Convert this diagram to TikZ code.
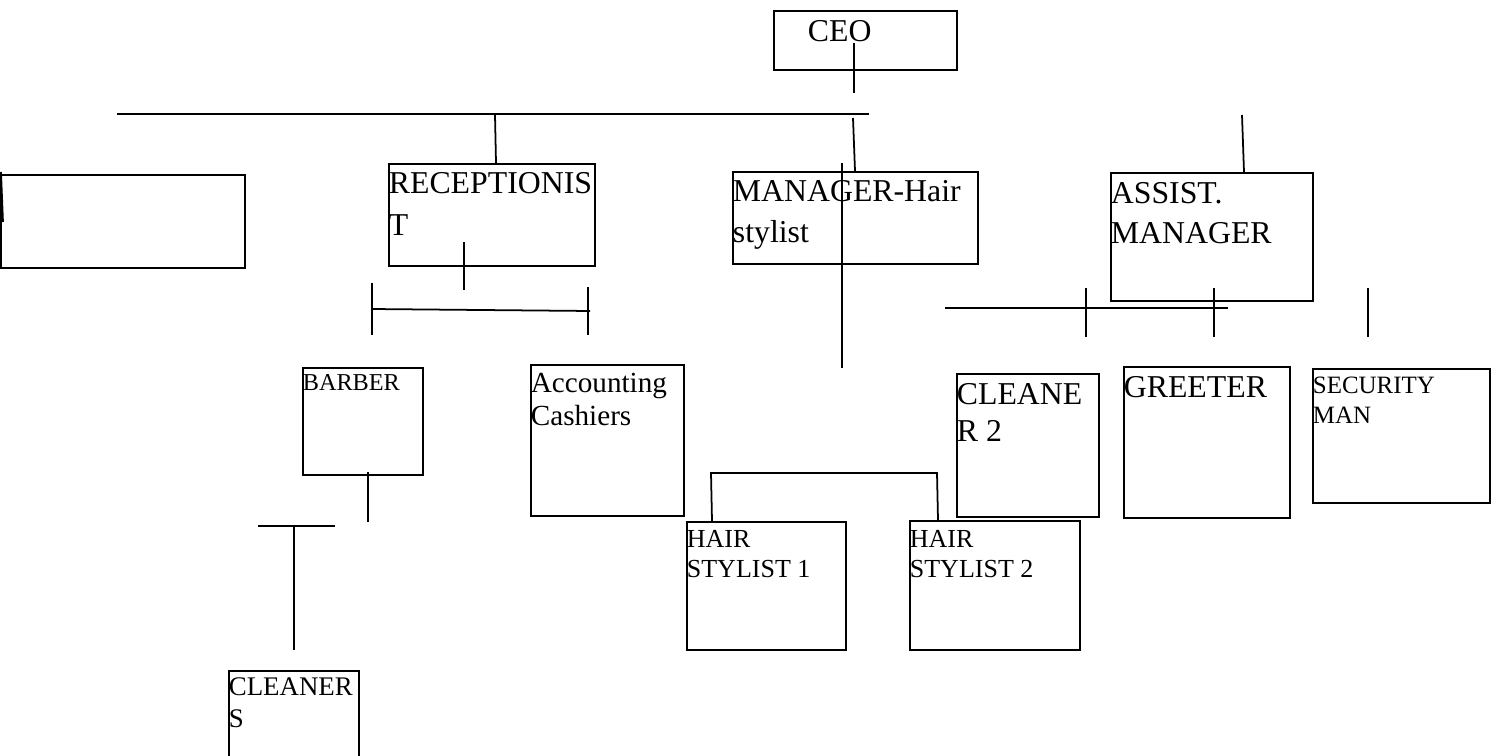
\documentclass[tikz,border=0pt]{standalone}
\usepackage{fontspec}
\setmainfont{Liberation Serif}
\usetikzlibrary{positioning}

\newlength\pxl
\setlength\pxl{0.02cm}
% box content: width, height, first baseline, text
\newcommand\boxtext[4]{\parbox[t][#2\pxl][t]{#1\pxl}{\raggedright\rule{0pt}{#3\pxl}#4}}

\tikzset{
  box/.style={draw, line width=1pt, inner sep=0pt, anchor=north west},
  bigfont/.style={font=\fontsize{18.1}{#1}\selectfont},
  midfont/.style={font=\fontsize{16.6}{#1}\selectfont},
  smallfont/.style={font=\fontsize{14.8}{#1}\selectfont},
  wire/.style={line width=1pt}
}

\begin{document}
\begin{tikzpicture}[x=0.02cm, y=-0.02cm]
\useasboundingbox (0,0) rectangle (1497,756);

% boxes
\node[box, bigfont=23.9] (ceo) at (773,10) {\boxtext{183}{59}{31}{\hspace*{34\pxl}CEO}};
\node[box] (blank) at (0,174) {\boxtext{244}{93}{30}{}};
\node[box, bigfont=23.9] (recep) at (388,163) {\boxtext{206}{102}{30}{RECEPTIONIS\\T}};
\node[box, bigfont=23.3] (manager) at (732,171) {\boxtext{245}{92}{30}{MANAGER-Hair\\stylist}};
\node[box, bigfont=22.8] (assist) at (1110,172) {\boxtext{202}{128}{31}{ASSIST.\\MANAGER}};
\node[box, font=\fontsize{13.8}{17}\selectfont] (barber) at (302,367) {\boxtext{120}{107}{23}{BARBER}};
\node[box, midfont=18.8] (acct) at (530,364) {\boxtext{153}{151}{28}{Accounting\\Cashiers}};
\node[box, bigfont=21] (cleaner2) at (956,373) {\boxtext{142}{143}{31}{CLEANE\\R 2}};
\node[box, bigfont=21] (greeter) at (1123,366) {\boxtext{166}{151}{31}{GREETER}};
\node[box, font=\fontsize{14.2}{17.1}\selectfont] (security) at (1312,368) {\boxtext{177}{134}{25}{SECURITY\\MAN}};
\node[box, smallfont=17.1] (stylist1) at (686,521) {\boxtext{159}{128}{26}{HAIR\\STYLIST 1}};
\node[box, smallfont=17.1] (stylist2) at (909,520) {\boxtext{170}{129}{27}{HAIR\\STYLIST 2}};
\node[box, font=\fontsize{15.3}{18.2}\selectfont] (cleaners) at (228,670) {\boxtext{130}{100}{25}{CLEANER\\S}};

% lines
\draw[wire] (854,43) -- (854,93);
\draw[wire] (117,114) -- (869,114);
\draw[wire] (1,172) -- (3,222);
\draw[wire] (495,115) -- (496,163);
\draw[wire] (464,242) -- (464,290);
\draw[wire] (371,309) -- (590,311);
\draw[wire] (372,283) -- (372,335);
\draw[wire] (588,287) -- (588,335);
\draw[wire] (853,118) -- (855,171);
\draw[wire] (842,163) -- (842,368);
\draw[wire] (712,521) -- (711,473) -- (937,473) -- (938,520);
\draw[wire] (1242,115) -- (1244,172);
\draw[wire] (945,308) -- (1228,308);
\foreach \x in {1086,1214,1368}
  \draw[wire] (\x,288) -- (\x,337);
\draw[wire] (368,472) -- (368,522);
\draw[wire] (258,526) -- (335,526);
\draw[wire] (294,526) -- (294,650);
\end{tikzpicture}
\end{document}
